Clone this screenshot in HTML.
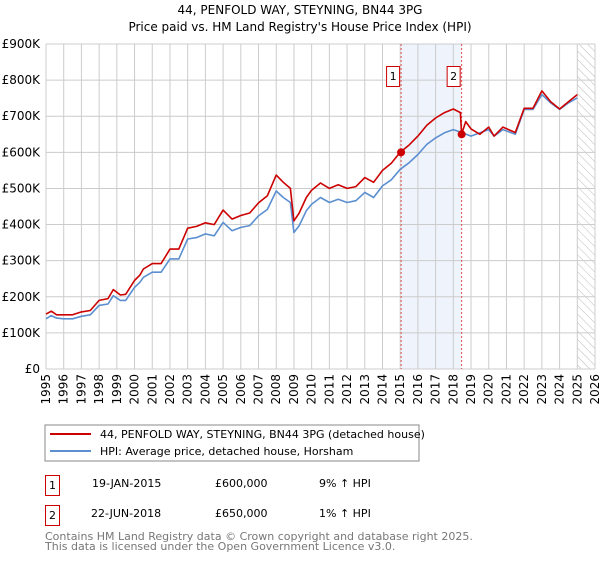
<!DOCTYPE html>
<html><head><meta charset="utf-8"><style>
body{margin:0;background:#fff;font-family:"DejaVu Sans","Liberation Sans",sans-serif;}
svg text{font-family:"DejaVu Sans","Liberation Sans",sans-serif;}
</style></head><body>
<svg id="c" width="600" height="560" xmlns="http://www.w3.org/2000/svg">
<text x="300" y="14" text-anchor="middle" font-size="12">44, PENFOLD WAY, STEYNING, BN44 3PG</text>
<text x="300" y="31" text-anchor="middle" font-size="12">Price paid vs. HM Land Registry's House Price Index (HPI)</text>
<g id="grid"></g><g id="marks"></g>
<g>
<rect x="45" y="425" width="374" height="36" fill="#fff" stroke="#888"/>
<line x1="50" y1="434" x2="91" y2="434" stroke="#cc0000" stroke-width="2"/>
<text x="100" y="438" font-size="11">44, PENFOLD WAY, STEYNING, BN44 3PG (detached house)</text>
<line x1="50" y1="451" x2="91" y2="451" stroke="#5b8fd0" stroke-width="2"/>
<text x="100" y="455" font-size="11">HPI: Average price, detached house, Horsham</text>
</g>
<g font-size="11">
<rect x="45.5" y="475.5" width="14" height="20" fill="none" stroke="#cc0000"/>
<text x="52.5" y="489" text-anchor="middle">1</text>
<text x="92" y="487">19-JAN-2015</text>
<text x="215" y="487">£600,000</text>
<text x="319" y="487">9% ↑ HPI</text>
<rect x="45.5" y="505.5" width="14" height="20" fill="none" stroke="#cc0000"/>
<text x="52.5" y="519" text-anchor="middle">2</text>
<text x="91" y="517">22-JUN-2018</text>
<text x="215" y="517">£650,000</text>
<text x="319" y="517">1% ↑ HPI</text>
</g>
<text x="45" y="540" font-size="11" fill="#777">Contains HM Land Registry data © Crown copyright and database right 2025.</text>
<text x="45" y="550" font-size="11" fill="#777">This data is licensed under the Open Government Licence v3.0.</text>
</svg>
<script>
const yearTicks=[1995,1996,1997,1998,1999,2000,2001,2002,2003,2004,2005,2006,2007,2008,2009,2010,2011,2012,2013,2014,2015,2016,2017,2018,2019,2020,2021,2022,2023,2024,2025,2026];
const valueTicks=[0,100,200,300,400,500,600,700,800,900];
const valueTickLabels=["£0","£100K","£200K","£300K","£400K","£500K","£600K","£700K","£800K","£900K"];
const hpiX=[1995.0,1995.3,1995.6,1996.0,1996.5,1997.0,1997.5,1998.0,1998.5,1998.8,1999.2,1999.5,2000.0,2000.3,2000.5,2001.0,2001.5,2002.0,2002.5,2003.0,2003.5,2004.0,2004.5,2005.0,2005.5,2006.0,2006.5,2007.0,2007.5,2008.0,2008.4,2008.8,2009.0,2009.3,2009.7,2010.0,2010.5,2011.0,2011.5,2012.0,2012.5,2013.0,2013.5,2014.0,2014.5,2015.0,2015.5,2016.0,2016.5,2017.0,2017.5,2018.0,2018.5,2019.0,2019.5,2020.0,2020.3,2020.8,2021.5,2022.0,2022.5,2023.0,2023.5,2024.0,2024.5,2025.0];
const hpiV=[139,148,141,139,139,146,150,176,180,203,190,190,226,240,254,268,268,305,305,360,364,374,369,406,383,392,397,424,442,493,475,461,378,397,438,456,475,461,470,461,466,489,475,507,524,553,571,594,622,640,654,663,654,645,654,663,645,663,650,719,719,760,737,719,737,751];
const priceX=[1995.0,1995.3,1995.6,1996.0,1996.5,1997.0,1997.5,1998.0,1998.5,1998.8,1999.2,1999.5,2000.0,2000.3,2000.5,2001.0,2001.5,2002.0,2002.5,2003.0,2003.5,2004.0,2004.5,2005.0,2005.5,2006.0,2006.5,2007.0,2007.5,2008.0,2008.4,2008.8,2009.0,2009.3,2009.7,2010.0,2010.5,2011.0,2011.5,2012.0,2012.5,2013.0,2013.5,2014.0,2014.5,2015.0,2015.5,2016.0,2016.5,2017.0,2017.5,2018.0,2018.4,2018.47,2018.7,2019.0,2019.5,2020.0,2020.3,2020.8,2021.5,2022.0,2022.5,2023.0,2023.5,2024.0,2024.5,2025.0];
const priceV=[152,160,150,150,150,158,162,190,195,220,205,207,245,260,277,292,292,332,332,390,395,405,400,440,415,425,432,460,480,537,517,500,410,432,475,495,515,500,510,500,505,530,517,550,570,600,620,645,675,695,710,720,710,650,685,665,650,670,645,670,655,722,722,770,740,720,740,760];
const saleX=[2015.05,2018.47];
const saleV=[600,650];
const saleLabels=["1","2"];

const NS="http://www.w3.org/2000/svg";
const X0=46,X1=595,Y0=369,Y1=44;
function xs(t){return X0+(t-1995)/(2026-1995)*(X1-X0);}
function ys(v){return Y0-v/900*(Y0-Y1);}
function mk(tag,attrs,parent){const e=document.createElementNS(NS,tag);for(const k in attrs)e.setAttribute(k,attrs[k]);parent.appendChild(e);return e;}
const grid=document.getElementById('grid'),marks=document.getElementById('marks');

let r=mk('rect',{x:xs(saleX[0]),y:Y1,width:xs(saleX[1])-xs(saleX[0]),height:Y0-Y1,fill:'#eef3fc'},grid);


const defs=mk('defs',{},grid);
const pat=mk('pattern',{id:'hatch',patternUnits:'userSpaceOnUse',width:6,height:6,patternTransform:'rotate(-45)'},defs);
mk('line',{x1:0,y1:0,x2:0,y2:6,stroke:'#bbb','stroke-width':1},pat);
let hz=mk('rect',{x:xs(2025),y:Y1,width:X1-xs(2025),height:Y0-Y1,fill:'url(#hatch)'},grid);



yearTicks.forEach(t=>{
  let l=mk('line',{x1:xs(t),y1:Y1,x2:xs(t),y2:Y0,stroke:'#ccc','stroke-width':1},grid);
  
  
  let tx=mk('text',{x:0,y:0,'text-anchor':'end','font-size':12,transform:'translate('+(xs(t)+4)+','+(Y0+5)+') rotate(-90)'},grid);
  tx.textContent=t;
  
  
});
valueTicks.forEach((v,i)=>{
  let l=mk('line',{x1:X0,y1:ys(v),x2:X1,y2:ys(v),stroke:'#ccc','stroke-width':1},grid);
  
  
  let tx=mk('text',{x:X0-6,y:ys(v)+4,'text-anchor':'end','font-size':12},grid);
  tx.textContent=valueTickLabels[i];
  
  
});
saleX.forEach((t,i)=>{
  let l=mk('line',{x1:xs(t),y1:Y1,x2:xs(t),y2:Y0,stroke:'#e05050','stroke-width':1,'stroke-dasharray':'2,2'},grid);
  
  
  let b=mk('rect',{x:xs(t)-14.5,y:66.5,width:13,height:20,fill:'#fff',stroke:'#cc0000'},grid);
  
  
  let tx=mk('text',{x:xs(t)-8,y:80,'text-anchor':'middle','font-size':11},grid);
  tx.textContent=saleLabels[i];
  
  
});
function path(xa,va,color,name){
  const d=xa.map((t,i)=>(i?'L':'M')+xs(t).toFixed(1)+','+ys(va[i]).toFixed(1)).join('');
  const p=mk('path',{d:d,fill:'none',stroke:color,'stroke-width':1.6,'stroke-linejoin':'round'},marks);
  
  
}
path(hpiX,hpiV,'#5b8fd0','hpi-line');
path(priceX,priceV,'#cc0000','price-line');
saleX.forEach((t,i)=>{
  const c=mk('circle',{cx:xs(t),cy:ys(saleV[i]),r:4,fill:'#cc0000'},marks);
  
  
});
</script>
</body></html>
